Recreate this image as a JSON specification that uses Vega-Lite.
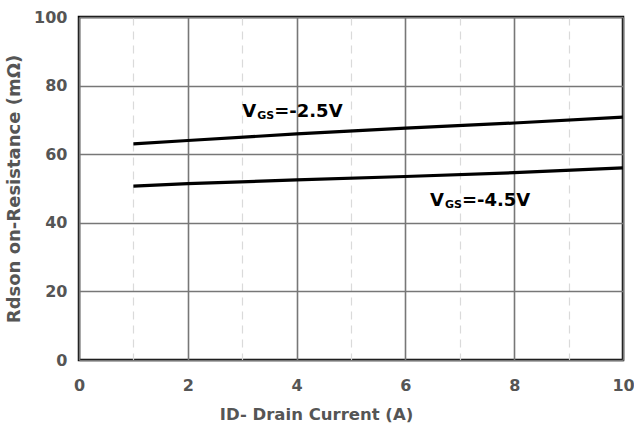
{
  "$schema": "https://vega.github.io/schema/vega-lite/v6.json",
  "width": 544,
  "height": 343,
  "autosize": "none",
  "padding": {"left": 79, "top": 17, "right": 11, "bottom": 66},
  "background": "white",
  "config": {
    "font": "DejaVu Sans",
    "view": {"stroke": "black", "strokeWidth": 2.5},
    "axis": {
      "labelFont": "DejaVu Sans",
      "labelFontWeight": "bold",
      "labelFontSize": 16,
      "labelColor": "#555555",
      "titleFont": "DejaVu Sans",
      "titleFontWeight": "bold",
      "titleColor": "#555555",
      "ticks": false,
      "domain": false,
      "labelFlush": false,
      "labelOverlap": false,
      "labelBound": false
    }
  },
  "datasets": {
    "curves": [
      {"id": 1, "r": 63.0, "vgs": "-2.5V"},
      {"id": 2, "r": 64.0, "vgs": "-2.5V"},
      {"id": 4, "r": 65.9, "vgs": "-2.5V"},
      {"id": 6, "r": 67.6, "vgs": "-2.5V"},
      {"id": 8, "r": 69.1, "vgs": "-2.5V"},
      {"id": 10, "r": 70.8, "vgs": "-2.5V"},
      {"id": 1, "r": 50.7, "vgs": "-4.5V"},
      {"id": 2, "r": 51.4, "vgs": "-4.5V"},
      {"id": 4, "r": 52.5, "vgs": "-4.5V"},
      {"id": 6, "r": 53.5, "vgs": "-4.5V"},
      {"id": 8, "r": 54.6, "vgs": "-4.5V"},
      {"id": 10, "r": 56.0, "vgs": "-4.5V"}
    ],
    "labels": [
      {"lx": 3.0, "ly": 70.8, "main": "V", "sub": "GS", "rest": "=-2.5V"},
      {"lx": 6.45, "ly": 45.0, "main": "V", "sub": "GS", "rest": "=-4.5V"}
    ]
  },
  "layer": [
    {
      "data": {"name": "curves"},
      "mark": {"type": "line", "color": "black", "strokeWidth": 3.2},
      "encoding": {
        "x": {
          "field": "id", "type": "quantitative",
          "scale": {"domain": [0, 10], "nice": false},
          "axis": {
            "title": "ID- Drain Current (A)",
            "titleFontSize": 16.5,
            "titleX": 237,
            "values": [0, 1, 2, 3, 4, 5, 6, 7, 8, 9, 10],
            "labelExpr": "datum.value % 2 === 0 ? datum.label : ''",
            "labelPadding": 17,
            "titlePadding": 13,
            "grid": true,
            "gridColor": {"condition": {"test": "datum.value % 2 === 1", "value": "#dadada"}, "value": "#777777"},
            "gridDash": {"condition": {"test": "datum.value % 2 === 1", "value": [8, 6]}, "value": []},
            "gridWidth": {"condition": {"test": "datum.value % 2 === 1", "value": 1.2}, "value": 1.6}
          }
        },
        "y": {
          "field": "r", "type": "quantitative",
          "scale": {"domain": [0, 100], "nice": false},
          "axis": {
            "title": "Rdson on-Resistance (mΩ)",
            "titleFontSize": 18,
            "values": [0, 10, 20, 30, 40, 50, 60, 70, 80, 90, 100],
            "labelExpr": "datum.value % 20 === 0 ? datum.label : ''",
            "labelPadding": 12,
            "titlePadding": 10,
            "grid": true,
            "gridColor": {"condition": {"test": "datum.value % 20 === 10", "value": "#dadada"}, "value": "#777777"},
            "gridDash": {"condition": {"test": "datum.value % 20 === 10", "value": [8, 6]}, "value": []},
            "gridWidth": {"condition": {"test": "datum.value % 20 === 10", "value": 1.2}, "value": 1.6}
          }
        },
        "detail": {"field": "vgs"}
      }
    },
    {
      "data": {"name": "labels"},
      "mark": {"type": "text", "align": "left", "baseline": "alphabetic", "font": "DejaVu Sans", "fontWeight": "bold", "fontSize": 18, "color": "black"},
      "encoding": {
        "x": {"field": "lx", "type": "quantitative"},
        "y": {"field": "ly", "type": "quantitative"},
        "text": {"field": "main"}
      }
    },
    {
      "data": {"name": "labels"},
      "mark": {"type": "text", "align": "left", "baseline": "alphabetic", "font": "DejaVu Sans", "fontWeight": "bold", "fontSize": 11, "color": "black", "dx": 15, "dy": 2},
      "encoding": {
        "x": {"field": "lx", "type": "quantitative"},
        "y": {"field": "ly", "type": "quantitative"},
        "text": {"field": "sub"}
      }
    },
    {
      "data": {"name": "labels"},
      "mark": {"type": "text", "align": "left", "baseline": "alphabetic", "font": "DejaVu Sans", "fontWeight": "bold", "fontSize": 18, "color": "black", "dx": 32},
      "encoding": {
        "x": {"field": "lx", "type": "quantitative"},
        "y": {"field": "ly", "type": "quantitative"},
        "text": {"field": "rest"}
      }
    }
  ]
}
